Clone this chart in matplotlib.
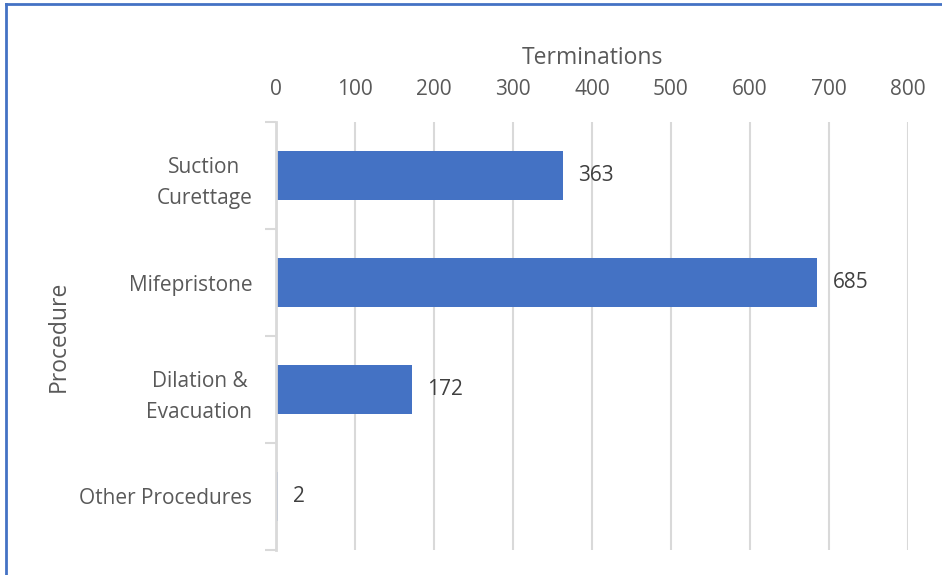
import matplotlib.pyplot as plt
from matplotlib.lines import Line2D

# data
procedures = ['Suction\nCurettage', 'Mifepristone', 'Dilation &\nEvacuation', 'Other Procedures']
terminations = [363, 685, 172, 2]
xticks = [0, 100, 200, 300, 400, 500, 600, 700, 800]

plt.rcParams['font.family'] = ['Open Sans', 'DejaVu Sans']
txt = '#595959'
grid = '#D9D9D9'
bar_col = '#4472C4'

fig = plt.figure(figsize=(9.42, 5.75), dpi=100)
ax = fig.add_axes([276/942, 1 - 550/575, 632/942, 428/575])

pos = list(range(len(procedures)))
ax.barh(pos, terminations, height=0.46, color=bar_col, zorder=3)
ax.set_ylim(len(procedures) - 0.5, -0.5)
ax.set_xlim(0, 800)

for p, v in zip(pos, terminations):
    ax.annotate(str(v), (v, p), xytext=(11, 0), textcoords='offset points',
                va='center', ha='left', fontsize=15, color='#404040')

ax.xaxis.tick_top()
ax.xaxis.set_label_position('top')
ax.set_xticks(xticks)
ax.set_xticklabels([str(t) for t in xticks])
ax.tick_params(axis='x', length=0, pad=16, labelsize=15, labelcolor=txt)
ax.grid(axis='x', color=grid, linewidth=1.5, zorder=0)

ax.set_yticks(pos)
ax.set_yticklabels(procedures, multialignment='center', linespacing=1.6)
ax.tick_params(axis='y', length=0, pad=17, labelsize=15, labelcolor=txt)
# category boundary ticks
ax.set_yticks([p - 0.5 for p in pos] + [len(pos) - 0.5], minor=True)
ax.tick_params(axis='y', which='minor', length=8, width=1.5, color=grid)

for s in ['top', 'right', 'bottom']:
    ax.spines[s].set_visible(False)
ax.spines['left'].set_color(grid)
ax.spines['left'].set_linewidth(2)
ax.spines['left'].set_zorder(4)

ax.set_xlabel('Terminations', fontsize=16.5, color=txt, labelpad=11)
ax.set_ylabel('Procedure', fontsize=16.5, color=txt, labelpad=6)

# blue chart border on left and top
fig.add_artist(Line2D([5.5/942, 5.5/942], [0, 1 - 4/575], color=bar_col, lw=2))
fig.add_artist(Line2D([5.5/942, 1], [1 - 4/575, 1 - 4/575], color=bar_col, lw=2))

fig.savefig('out.png', dpi=100)
